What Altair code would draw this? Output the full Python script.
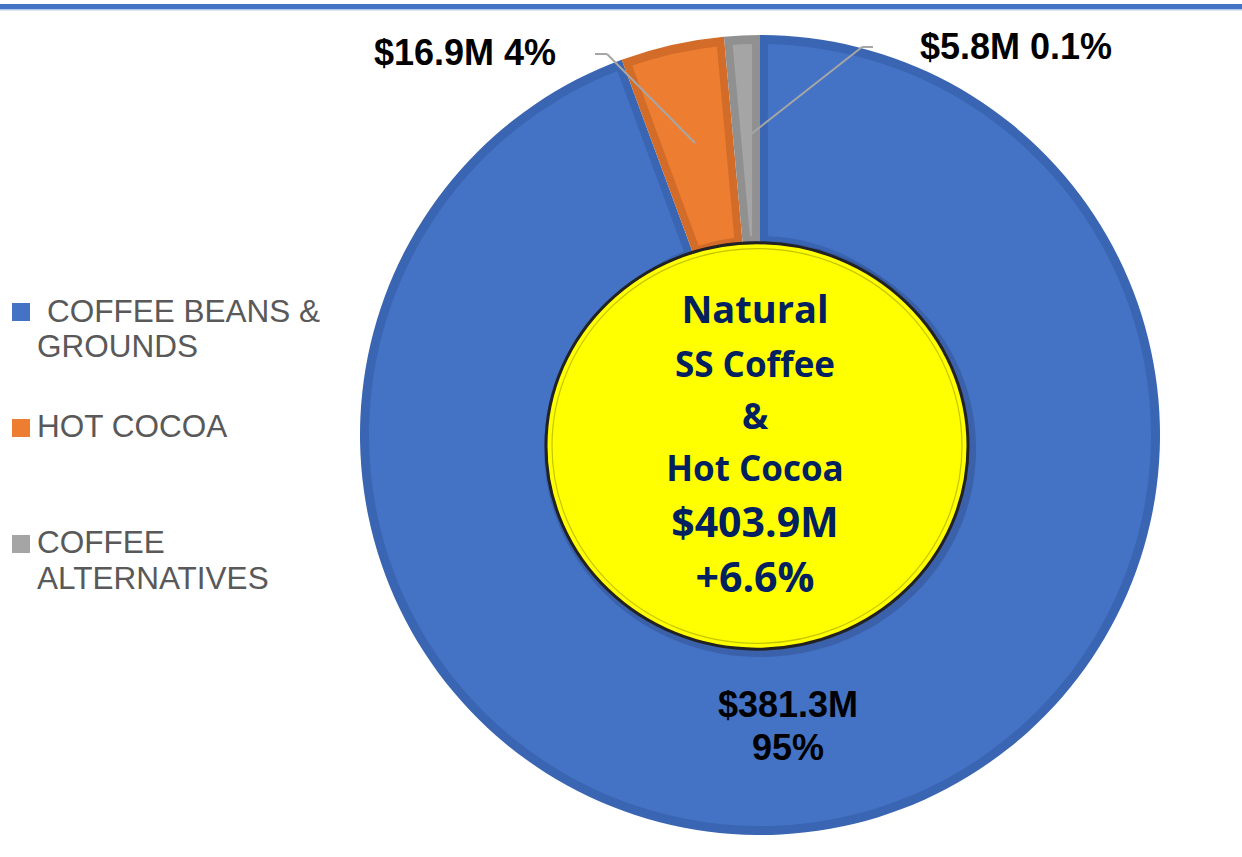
import altair as alt
import pandas as pd

# ---- data ----
categories = ["COFFEE BEANS & GROUNDS", "HOT COCOA", "COFFEE ALTERNATIVES"]
sales_musd = [381.3, 16.9, 5.8]
value_labels = ["$381.3M", "$16.9M", "$5.8M"]
share_labels = ["95%", "4%", "0.1%"]
legend_lines = [["COFFEE BEANS &", "GROUNDS"], ["HOT COCOA"], ["COFFEE", "ALTERNATIVES"]]
center_lines = ["Natural", "SS Coffee", "&", "Hot Cocoa", "$403.9M", "+6.6%"]

# ---- styles ----
fills = ["#4472C4", "#ED7D31", "#A5A5A5"]
edges = ["#3A65B2", "#D26C28", "#909090"]
W, H = 1242, 857
CX, CY = 760, 435

df = pd.DataFrame({
    "category": categories,
    "sales": sales_musd,
    "idx": list(range(len(categories))),
})

one = pd.DataFrame({"k": [0]})

layers = []

# top banner line
layers.append(alt.Chart(one).mark_rule(color="#4472C4", strokeWidth=5).encode(
    x=alt.value(0), x2=alt.value(W), y=alt.value(6.5)))
layers.append(alt.Chart(one).mark_rule(color="#B4C7E7", strokeWidth=1.5).encode(
    x=alt.value(0), x2=alt.value(W), y=alt.value(9.7)))

# donut: dark border layer, then lighter inset fill layer
layers.append(alt.Chart(df).mark_arc(outerRadius=400, innerRadius=190, strokeWidth=0).encode(
    theta=alt.Theta("sales:Q", stack=True),
    color=alt.Color("category:N", scale=alt.Scale(domain=categories, range=edges), legend=None),
    order=alt.Order("idx:Q"),
    x=alt.value(CX), y=alt.value(CY),
))
layers.append(alt.Chart(df).mark_arc(outerRadius=391, innerRadius=199, strokeWidth=0,
                                      padAngle=0.036).encode(
    theta=alt.Theta("sales:Q", stack=True),
    fill=alt.Fill("category:N", scale=alt.Scale(domain=categories, range=fills), legend=None),
    order=alt.Order("idx:Q"),
    x=alt.value(CX), y=alt.value(CY),
))

# yellow centre disc (slightly oval) with shadow
YX, YY, YR = 757, 446, 211
oval = "M -1 0 A 1 0.963 0 1 0 1 0 A 1 0.963 0 1 0 -1 0 Z"
layers.append(alt.Chart(one).mark_point(filled=True, shape=oval, color="#2E4E8C", opacity=0.45,
                                        size=(2 * YR + 10) ** 2, strokeWidth=0).encode(
    x=alt.value(YX + 3), y=alt.value(YY + 3)))
layers.append(alt.Chart(one).mark_point(filled=True, shape=oval, color="#FFFF00", opacity=1,
                                        size=(2 * YR) ** 2, stroke="#222222", strokeWidth=3).encode(
    x=alt.value(YX), y=alt.value(YY)))
layers.append(alt.Chart(one).mark_point(filled=False, shape=oval, color="#B8B800", opacity=0.8,
                                        size=(2 * YR - 12) ** 2, strokeWidth=1.2).encode(
    x=alt.value(YX), y=alt.value(YY)))

# centre text
center_y = [312, 366, 418, 470, 525, 580]
center_sizes = [38, 35, 35, 35, 41, 41]
for txt, yy, fs in zip(center_lines, center_y, center_sizes):
    layers.append(alt.Chart(one).mark_text(font="Open Sans", fontWeight="bold", fontSize=fs,
                                           color="#002060", align="center", baseline="middle").encode(
        x=alt.value(755), y=alt.value(yy), text=alt.value(txt)))

# leader lines
leader = "#A6A6A6"
segs = [
    (595, 54, 607, 54), (607, 54, 695, 143),
    (873, 47, 862, 47), (862, 47, 750, 135),
]
for x1, y1, x2, y2 in segs:
    layers.append(alt.Chart(one).mark_rule(color=leader, strokeWidth=2).encode(
        x=alt.value(x1), y=alt.value(y1), x2=alt.value(x2), y2=alt.value(y2)))

# slice labels
lab_font = dict(font="Liberation Sans", fontWeight="bold", fontSize=36, color="#000000",
                align="center", baseline="middle")
layers.append(alt.Chart(one).mark_text(**lab_font).encode(
    x=alt.value(465), y=alt.value(54), text=alt.value(f"{value_labels[1]} {share_labels[1]}")))
layers.append(alt.Chart(one).mark_text(**lab_font).encode(
    x=alt.value(1016), y=alt.value(48), text=alt.value(f"{value_labels[2]} {share_labels[2]}")))
layers.append(alt.Chart(one).mark_text(**lab_font).encode(
    x=alt.value(788), y=alt.value(706), text=alt.value(value_labels[0])))
layers.append(alt.Chart(one).mark_text(**lab_font).encode(
    x=alt.value(788), y=alt.value(749), text=alt.value(share_labels[0])))

# legend
sq_y = [312, 428, 544]
line_y = [[313, 348], [428], [544, 580]]
text_x = [[47, 37], [37], [37, 37]]
for i, cat in enumerate(categories):
    layers.append(alt.Chart(one).mark_square(color=fills[i], opacity=1, size=18 * 18).encode(
        x=alt.value(21), y=alt.value(sq_y[i])))
    for ln, yy, xx in zip(legend_lines[i], line_y[i], text_x[i]):
        layers.append(alt.Chart(one).mark_text(font="Liberation Sans", fontSize=31.5, color="#595959",
                                               align="left", baseline="middle").encode(
            x=alt.value(xx), y=alt.value(yy), text=alt.value(ln)))

chart = alt.layer(*layers).properties(
    width=W, height=H, autosize=alt.AutoSizeParams(type="none"), padding=0,
).configure_view(stroke=None)

chart.save("out.html", embed_options={"renderer": "svg", "actions": False})
